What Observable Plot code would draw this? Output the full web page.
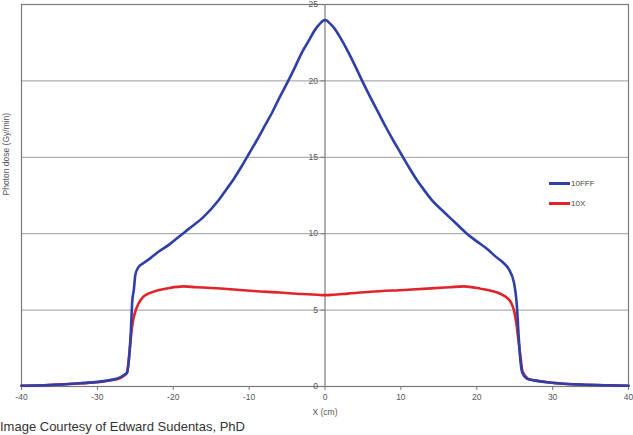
<!DOCTYPE html>
<html>
<head>
<meta charset="utf-8">
<script src="https://cdn.jsdelivr.net/npm/d3@7"></script>
<script src="https://cdn.jsdelivr.net/npm/@observablehq/plot@0.6"></script>
<style>
  html, body { margin: 0; padding: 0; background: #fff; }
  #wrap { position: relative; width: 633px; height: 435px; font-family: "Liberation Sans", Arial, sans-serif; }
  #caption { position: absolute; left: 0; top: 419px; font-size: 13px; line-height: 16px; color: #333; white-space: nowrap; }
  .leg { position: absolute; left: 549px; font-size: 8px; color: #444; display: flex; align-items: center; }
  .leg span.sw { display: inline-block; width: 21px; height: 2.5px; margin-right: 1px; }
</style>
</head>
<body>
<div id="wrap">
  <div id="chart"></div>
  <div class="leg" style="top:179px"><span class="sw" style="background:#2e3fa6"></span>10FFF</div>
  <div class="leg" style="top:199px"><span class="sw" style="background:#e0242a"></span>10X</div>
  <div id="caption">Image Courtesy of Edward Sudentas, PhD</div>
</div>
<script>
// Series 10FFF (flattening-filter-free), x in cm, dose in Gy/min
const fffX = [-40,-37,-34,-32,-30,-28,-27,-26.5,-26.1,-25.8,-25.6,-25.4,-25.2,-25.0,-24.6,-24.0,-23.0,-22.0,-20.5,-19.0,-18.0,-16.0,-14.0,-13,-12,-11,-10,-9,-8,-7,-6,-5,-4,-3,-2,-1.5,-1,-0.5,-0.25,0,0.25,0.5,1,1.5,2,3,4,5,6,7,8,9,10,11,12,13,14,15.5,17,18.7,20,21.5,22.5,23.5,24.2,24.9,25.3,25.5,25.7,26.0,26.6,27.5,29.3,31,33.7,37,40];
const fffY = [0.05,0.08,0.15,0.22,0.3,0.45,0.6,0.75,0.9,2.0,3.5,5.6,6.3,7.3,7.8,8.05,8.4,8.8,9.3,9.9,10.3,11.1,12.2,12.9,13.6,14.4,15.25,16.1,17.0,17.9,18.9,19.85,20.85,21.9,22.75,23.2,23.55,23.83,23.94,23.98,23.94,23.83,23.58,23.25,22.85,21.95,20.95,19.9,18.9,17.95,17.0,16.1,15.25,14.4,13.6,12.9,12.25,11.5,10.8,10.0,9.5,8.95,8.5,8.1,7.7,6.8,5.2,3.5,2.0,0.9,0.52,0.4,0.28,0.2,0.13,0.08,0.05];
// Series 10X (flattened)
const xX = [-40,-37,-34,-32,-30,-28,-27,-26.5,-26.1,-25.9,-25.7,-25.5,-25.3,-25.0,-24.6,-24.0,-23.2,-22,-20.5,-18.6,-17,-15,-12,-9.4,-6,-3,-1,0,1,3,6,10.4,14,16.5,18.3,20.5,22,23.1,24,24.5,24.9,25.2,25.5,25.8,26.0,26.3,26.8,28,29.3,31,33.7,37,40];
const xY = [0.05,0.08,0.16,0.22,0.28,0.42,0.55,0.7,0.9,1.6,2.6,3.6,4.3,4.9,5.4,5.85,6.1,6.3,6.45,6.55,6.5,6.45,6.35,6.25,6.15,6.05,6.0,5.98,6.0,6.08,6.2,6.32,6.42,6.5,6.55,6.4,6.25,6.07,5.8,5.5,5.0,4.2,3.0,1.8,1.05,0.75,0.5,0.38,0.28,0.2,0.13,0.08,0.05];

const xTicks = [-40,-30,-20,-10,0,10,20,30,40];
const yTicks = [0,5,10,15,20,25];
const gridValues = [5,10,15,20];
const axisAtX = 0;
const xLabel = "X (cm)";
const yLabel = "Photon dose (Gy/min)";

const fff = fffX.map((x, i) => ({x, y: fffY[i]}));
const flat = xX.map((x, i) => ({x, y: xY[i]}));

const chart = Plot.plot({
  width: 633,
  height: 420,
  marginLeft: 21,
  marginRight: 5,
  marginTop: 4,
  marginBottom: 34,
  style: {fontFamily: "'Liberation Sans', Arial, sans-serif", fontSize: "8.5px", color: "#444", background: "#fff"},
  x: {domain: [-40, 40], axis: null},
  y: {domain: [0, 25], axis: null},
  marks: [
    Plot.ruleY(gridValues, {stroke: "#9a9a9a", strokeWidth: 1}),
    Plot.frame({stroke: "#7a7a7a", strokeWidth: 1.2}),
    Plot.ruleX([axisAtX], {stroke: "#7a7a7a", strokeWidth: 1.2}),
    Plot.ruleY(yTicks, {y: d => d, x1: () => axisAtX, x2: () => axisAtX, insetLeft: -4, stroke: "#7a7a7a"}),
    Plot.text(yTicks, {y: d => d, x: () => axisAtX, dx: -7, textAnchor: "end", text: d => String(d), fill: "#555"}),
    Plot.axisX(xTicks, {tickSize: 4, tickPadding: 3, tickFormat: d => String(d), stroke: "#7a7a7a", fill: "#555", label: null}),
    Plot.text([xLabel], {frameAnchor: "bottom", dy: 28, fill: "#555"}),
    Plot.text([yLabel], {frameAnchor: "left", dx: -15, rotate: -90, fill: "#555"}),
    Plot.line(flat, {x: "x", y: "y", stroke: "#e0242a", strokeWidth: 2.6, curve: "monotone-x"}),
    Plot.line(fff, {x: "x", y: "y", stroke: "#2e3fa6", strokeWidth: 2.6, curve: "monotone-x"})
  ]
});
document.getElementById("chart").appendChild(chart);
</script>
</body>
</html>
